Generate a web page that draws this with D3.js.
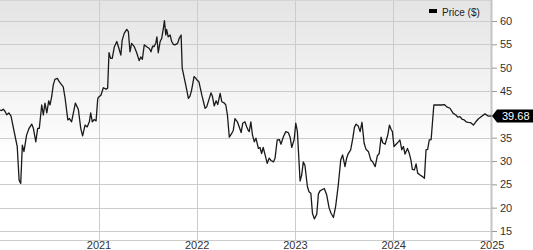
<!DOCTYPE html>
<html>
<head>
<meta charset="utf-8">
<script src="https://cdn.jsdelivr.net/npm/d3@7"></script>
<style>
  body { margin: 0; background: #fff; }
  svg { display: block; font-family: "Liberation Sans", Arial, sans-serif; }
</style>
</head>
<body>
<svg id="chart" width="533" height="250"></svg>
<script>
// Price series
const dates = [
  '2020-01-01','2020-01-07','2020-01-13','2020-01-20','2020-01-26','2020-02-03','2020-02-11','2020-02-19',
  '2020-02-29','2020-03-05','2020-03-12','2020-03-18','2020-03-24','2020-03-30','2020-04-09','2020-04-18',
  '2020-04-28','2020-05-04','2020-05-13','2020-05-20','2020-05-26','2020-06-04','2020-06-10','2020-06-16',
  '2020-06-23','2020-06-30','2020-07-05','2020-07-11','2020-07-17','2020-07-23','2020-08-01','2020-08-08',
  '2020-08-23','2020-08-30','2020-09-09','2020-09-15','2020-09-23','2020-10-07','2020-10-18','2020-10-27',
  '2020-11-03','2020-11-12','2020-11-20','2020-11-28','2020-12-03','2020-12-09','2020-12-16','2020-12-23',
  '2020-12-29','2020-12-31',
  '2021-01-10','2021-01-19','2021-01-29','2021-02-04','2021-02-09','2021-02-15','2021-02-21','2021-03-01',
  '2021-03-10','2021-03-18','2021-03-25','2021-03-30','2021-04-07','2021-04-16','2021-04-22','2021-04-28',
  '2021-05-04','2021-05-14','2021-05-23','2021-06-01','2021-06-07','2021-06-13','2021-06-20','2021-06-29',
  '2021-07-09','2021-07-15','2021-07-21','2021-07-26','2021-08-02','2021-08-06','2021-08-11','2021-08-18',
  '2021-08-24','2021-08-30','2021-09-03','2021-09-08','2021-09-11','2021-09-17','2021-09-24','2021-09-30',
  '2021-10-06','2021-10-12','2021-10-22','2021-10-28','2021-11-04','2021-11-08','2021-11-16','2021-11-25',
  '2021-12-01','2021-12-07','2021-12-13','2021-12-22','2021-12-29',
  '2022-01-01','2022-01-09','2022-01-20','2022-02-01','2022-02-07','2022-02-23','2022-02-28','2022-03-07',
  '2022-03-14','2022-03-20','2022-03-29','2022-04-04','2022-04-14','2022-04-19','2022-04-25','2022-05-02',
  '2022-05-11','2022-05-17','2022-05-23','2022-06-01','2022-06-08','2022-06-15','2022-06-21','2022-06-29',
  '2022-07-06','2022-07-12','2022-07-15','2022-07-21','2022-07-27','2022-08-03','2022-08-09','2022-08-18',
  '2022-08-24','2022-08-30','2022-09-05','2022-09-12','2022-09-20','2022-09-27','2022-10-04','2022-10-13',
  '2022-10-19','2022-10-27','2022-11-04','2022-11-10','2022-11-19','2022-11-28','2022-12-07','2022-12-14',
  '2022-12-20','2022-12-29',
  '2023-01-04','2023-01-10','2023-01-20','2023-01-26','2023-02-01','2023-02-07','2023-02-16','2023-02-22',
  '2023-03-01','2023-03-07','2023-03-14','2023-03-23','2023-03-29','2023-04-04','2023-04-13','2023-04-20',
  '2023-04-29','2023-05-08','2023-05-15','2023-05-24','2023-06-01','2023-06-11','2023-06-20','2023-06-27',
  '2023-07-06','2023-07-12','2023-07-18','2023-07-27','2023-08-04','2023-08-10','2023-08-16','2023-08-24',
  '2023-08-31','2023-09-07','2023-09-15','2023-09-22','2023-10-01','2023-10-10','2023-10-17','2023-10-26',
  '2023-11-03','2023-11-10','2023-11-17','2023-11-23','2023-12-02','2023-12-12','2023-12-18','2023-12-24',
  '2023-12-29',
  '2024-01-04','2024-01-12','2024-01-20','2024-01-26','2024-02-02','2024-02-08','2024-02-14','2024-02-23',
  '2024-03-01','2024-03-07','2024-03-12','2024-03-20','2024-03-26','2024-04-01','2024-04-10','2024-04-20',
  '2024-04-26','2024-05-02','2024-05-08','2024-05-14','2024-05-21','2024-05-31','2024-06-11','2024-06-29',
  '2024-07-09','2024-07-18','2024-07-30','2024-08-11','2024-08-20','2024-08-28','2024-09-05','2024-09-14',
  '2024-09-21','2024-09-28','2024-10-06','2024-10-15','2024-10-25','2024-11-03','2024-11-12','2024-11-25',
  '2024-12-07','2024-12-20','2024-12-31'
];
const prices = [
  40.9,40.8,41.1,40.6,39.9,40.3,39.6,37.3,
  34.5,33.1,25.9,25.2,33.4,32.0,35.6,37.0,
  37.9,37.0,34.1,37.0,37.0,42.0,39.9,42.4,
  40.3,42.9,42.0,43.8,46.3,47.5,47.7,47.0,
  45.9,43.4,38.8,39.1,38.4,42.4,41.1,37.0,
  35.4,37.7,37.3,38.4,40.3,38.4,38.9,38.6,
  43.2,43.6,
  44.1,45.7,45.4,45.6,53.2,52.0,52.0,54.5,
  55.6,54.1,52.7,55.9,57.4,58.2,57.7,53.4,
  55.2,54.5,53.2,51.5,52.3,51.8,54.9,54.5,
  54.1,53.4,54.6,54.5,55.3,56.6,53.2,55.6,
  56.3,58.4,60.1,57.0,58.2,56.6,57.0,55.6,
  55.0,54.9,55.2,56.3,57.0,49.9,47.7,45.2,
  43.4,43.9,45.2,48.1,47.7,
  47.4,47.0,44.1,41.3,41.6,44.6,43.9,41.8,
  42.9,42.1,44.5,42.7,42.4,42.0,39.9,35.1,
  35.9,36.6,39.1,38.4,37.3,36.1,38.1,38.4,
  37.3,36.5,36.3,38.4,35.6,34.1,34.9,32.7,
  32.9,31.6,32.9,31.3,29.5,30.6,30.1,29.8,
  30.6,34.5,34.6,33.6,35.2,36.3,36.1,35.1,
  32.9,34.6,
  38.1,36.3,25.7,27.0,29.8,29.1,24.6,23.4,
  23.1,18.8,17.6,18.6,22.9,23.6,23.9,24.1,
  22.7,19.9,18.8,17.9,20.2,24.9,30.2,31.3,
  28.8,30.6,31.6,32.4,34.9,37.2,37.9,37.5,
  36.3,38.3,33.8,32.5,32.0,30.2,29.8,28.8,
  31.1,31.6,35.1,33.9,33.6,35.6,37.7,36.8,
  36.3,
  33.1,33.6,34.1,34.5,32.4,33.1,31.5,32.7,
  31.6,30.2,28.2,28.1,29.4,27.4,27.0,26.6,
  26.3,32.4,32.5,34.5,34.6,42.0,42.0,42.0,
  42.1,41.6,41.3,40.2,39.9,39.4,39.5,38.9,
  38.8,38.4,38.3,38.2,37.7,38.4,39.0,39.6,
  40.1,39.6,39.68
];
const yGrid = [15, 20, 25, 30, 35, 40, 45, 50, 55, 60];
const yLabels = [15, 20, 25, 30, 35, 45, 50, 55, 60]; // 40 sits under the price tag
const xTickYears = ['2021-01-01', '2022-01-01', '2023-01-01', '2024-01-01', '2025-01-01'];
const lastLabel = '39.68';
const legendLabel = 'Price ($)';

const parse = d3.timeParse('%Y-%m-%d');
const data = dates.map((d, i) => ({ date: parse(d), value: prices[i] }));

const svg = d3.select('#chart');
const plotW = 492, plotH = 240;

const x = d3.scaleTime()
  .domain([parse('2020-01-01'), parse('2025-01-01')])
  .range([0, 491.7]);

const y = d3.scaleLinear()
  .domain([15, 60])
  .range([231, 21]);

// Background gradient
const grad = svg.append('defs').append('linearGradient')
  .attr('id', 'bg').attr('x1', 0).attr('y1', 0).attr('x2', 0).attr('y2', 1);
grad.append('stop').attr('offset', '0%').attr('stop-color', '#e4e4e4');
grad.append('stop').attr('offset', '65%').attr('stop-color', '#ffffff');
grad.append('stop').attr('offset', '100%').attr('stop-color', '#ffffff');

svg.append('rect')
  .attr('x', 0).attr('y', 0)
  .attr('width', plotW).attr('height', plotH)
  .attr('fill', 'url(#bg)');

// Grid lines
svg.append('g')
  .selectAll('line')
  .data(yGrid)
  .join('line')
  .attr('x1', 0).attr('x2', plotW)
  .attr('y1', d => Math.round(y(d)) + 0.5)
  .attr('y2', d => Math.round(y(d)) + 0.5)
  .attr('stroke', '#cccccc');

svg.append('g')
  .selectAll('line')
  .data(xTickYears.slice(0, -1).map(parse))
  .join('line')
  .attr('x1', d => Math.round(x(d)) + 0.5)
  .attr('x2', d => Math.round(x(d)) + 0.5)
  .attr('y1', 0).attr('y2', plotH)
  .attr('stroke', '#cccccc');

// Plot borders
svg.append('line')
  .attr('x1', 0).attr('x2', plotW).attr('y1', 0.5).attr('y2', 0.5)
  .attr('stroke', '#d4d4d4');
svg.append('line')
  .attr('x1', 0).attr('x2', plotW).attr('y1', plotH + 0.5).attr('y2', plotH + 0.5)
  .attr('stroke', '#cccccc');
svg.append('line')
  .attr('x1', plotW - 0.5).attr('x2', plotW - 0.5).attr('y1', 0).attr('y2', plotH + 1)
  .attr('stroke', '#c4c4c4').attr('stroke-width', 2);

// Right axis
const yAxis = svg.append('g')
  .attr('transform', `translate(${plotW},0)`)
  .call(d3.axisRight(y).tickValues(yLabels).tickSize(5).tickPadding(3));
yAxis.select('.domain').remove();
yAxis.selectAll('.tick line').attr('stroke', '#999');
yAxis.selectAll('.tick text')
  .attr('fill', '#333')
  .style('font-size', '11px')
  .style('font-family', '"Liberation Sans", Arial, sans-serif');

// Bottom axis labels
const xAxis = svg.append('g')
  .attr('transform', `translate(0,${plotH})`)
  .call(d3.axisBottom(x).tickValues(xTickYears.map(parse)).tickFormat(d3.timeFormat('%Y')).tickSize(0).tickPadding(1));
xAxis.select('.domain').remove();
xAxis.selectAll('.tick text')
  .attr('fill', '#333')
  .style('font-size', '11px')
  .style('font-family', '"Liberation Sans", Arial, sans-serif');

// Price line
const line = d3.line()
  .x(d => x(d.date))
  .y(d => y(d.value));

svg.append('path')
  .datum(data)
  .attr('fill', 'none')
  .attr('stroke', '#1a1a1a')
  .attr('stroke-width', 1.3)
  .attr('stroke-linejoin', 'round')
  .attr('d', line);

// Last price tag
const lastY = Math.round(y(prices[prices.length - 1]));
svg.append('path')
  .attr('d', `M${plotW},${lastY} L${plotW + 5},${lastY - 6.5} L533,${lastY - 6.5} L533,${lastY + 6.5} L${plotW + 5},${lastY + 6.5} Z`)
  .attr('fill', '#000');
svg.append('text')
  .attr('x', plotW + 10)
  .attr('y', lastY + 4)
  .attr('fill', '#fff')
  .style('font-size', '11px')
  .text(lastLabel);

// Legend
svg.append('rect')
  .attr('x', 429).attr('y', 9)
  .attr('width', 8).attr('height', 4)
  .attr('fill', '#000');
svg.append('text')
  .attr('x', 442).attr('y', 15.5)
  .attr('fill', '#222')
  .style('font-size', '10px')
  .text(legendLabel);
</script>
</body>
</html>
